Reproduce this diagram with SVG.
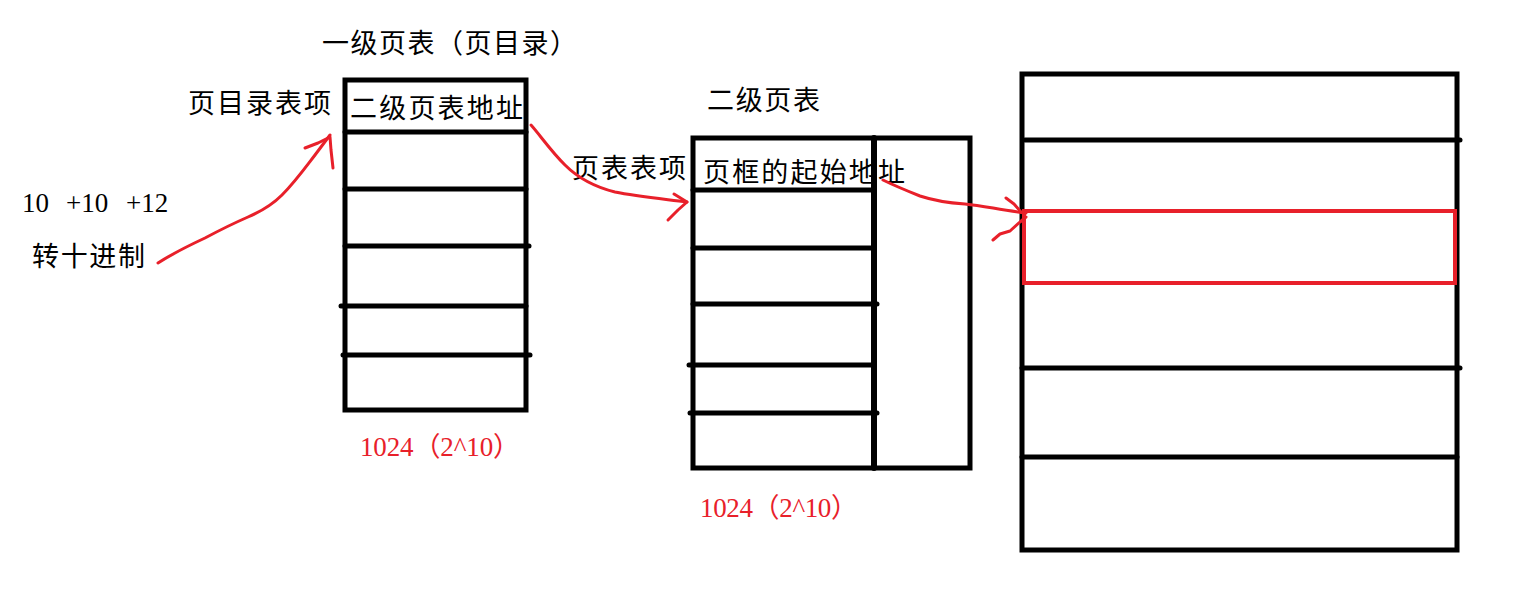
<svg xmlns="http://www.w3.org/2000/svg" width="1514" height="610" viewBox="0 0 1514 610">
<style>
.box{fill:none;stroke:#000;stroke-width:5}
.ln{stroke:#000;stroke-width:5;stroke-linecap:round}
.cn{font-family:"Noto Sans CJK SC","Liberation Serif",serif;font-size:27px;fill:#000}
.num{font-family:"Liberation Serif","Noto Sans CJK SC",serif;font-size:27px;fill:#000}
.red{font-family:"Liberation Serif","Noto Sans CJK SC",serif;font-size:27px;fill:#e8202a}
.arr{fill:none;stroke:#e8202a;stroke-width:3;stroke-linecap:round;stroke-linejoin:round}
</style>
<rect width="1514" height="610" fill="#fff"/>
<g id="labels">
<text class="num" y="212"><tspan x="22">10</tspan><tspan x="66">+10</tspan><tspan x="126">+12</tspan></text>
<text class="cn" x="32" y="266" textLength="113" lengthAdjust="spacing">转十进制</text>
<text class="cn" x="188" y="113" textLength="143" lengthAdjust="spacing">页目录表项</text>
<text class="cn" x="572" y="178" textLength="114" lengthAdjust="spacing">页表表项</text>
</g>
<g id="table1">
<text class="cn" x="322" y="53" textLength="255" lengthAdjust="spacing">一级页表（页目录）</text>
<rect class="box" x="345" y="80" width="181" height="330"/>
<line class="ln" x1="345" y1="132" x2="526" y2="132"/>
<line class="ln" x1="345" y1="189" x2="526" y2="189"/>
<line class="ln" x1="345" y1="246" x2="529" y2="246"/>
<line class="ln" x1="341" y1="306" x2="526" y2="306"/>
<line class="ln" x1="343" y1="355" x2="530" y2="355"/>
<text class="cn" x="350" y="118" textLength="173" lengthAdjust="spacing">二级页表地址</text>
<text class="red" x="360" y="456" textLength="160" lengthAdjust="spacing">1024（2^10）</text>
</g>
<g id="table2">
<text class="cn" x="707" y="110" textLength="113" lengthAdjust="spacing">二级页表</text>
<rect class="box" x="693" y="138" width="277" height="330"/>
<line class="ln" x1="874" y1="138" x2="874" y2="468" style="stroke-width:6"/>
<line class="ln" x1="693" y1="190" x2="873" y2="190"/>
<line class="ln" x1="693" y1="248" x2="873" y2="248"/>
<line class="ln" x1="693" y1="304" x2="877" y2="304"/>
<line class="ln" x1="689" y1="365" x2="873" y2="365"/>
<line class="ln" x1="690" y1="413" x2="877" y2="413"/>
<text class="cn" x="703" y="182" textLength="202" lengthAdjust="spacing">页框的起始地址</text>
<text class="red" x="700" y="517" textLength="158" lengthAdjust="spacing">1024（2^10）</text>
</g>
<g id="memory">
<rect class="box" x="1022" y="74" width="435" height="476"/>
<line class="ln" x1="1025" y1="140" x2="1460" y2="140"/>
<line class="ln" x1="1022" y1="368" x2="1460" y2="368"/>
<line class="ln" x1="1022" y1="457" x2="1457" y2="457"/>
<rect x="1024" y="211" width="431" height="72" fill="none" stroke="#e8202a" stroke-width="4"/>
</g>
<g id="connectors">
<path class="arr" d="M158,263 C175,252 190,245 205,238 C220,230 232,224 248,217 C262,211 272,205 282,195 C295,182 305,168 315,155 L330,135"/>
<path class="arr" d="M305,148 L318,143 L330,137 L331,150 L333,168"/>
<path class="arr" d="M531,125 C540,135 550,150 565,165 C578,178 595,187 615,192 C635,196 655,198 687,202"/>
<path class="arr" d="M674,194 L687,202 L678,210 L668,220"/>
<path class="arr" d="M883,180 C895,186 905,190 920,196 C935,201 950,203 965,204 C985,206 1000,210 1026,213"/>
<path class="arr" d="M1006,198 L1014,204 L1021,212"/>
<path class="arr" d="M993,240 L1000,234 L1010,231 L1020,222 L1026,217"/>
</g>
</svg>
